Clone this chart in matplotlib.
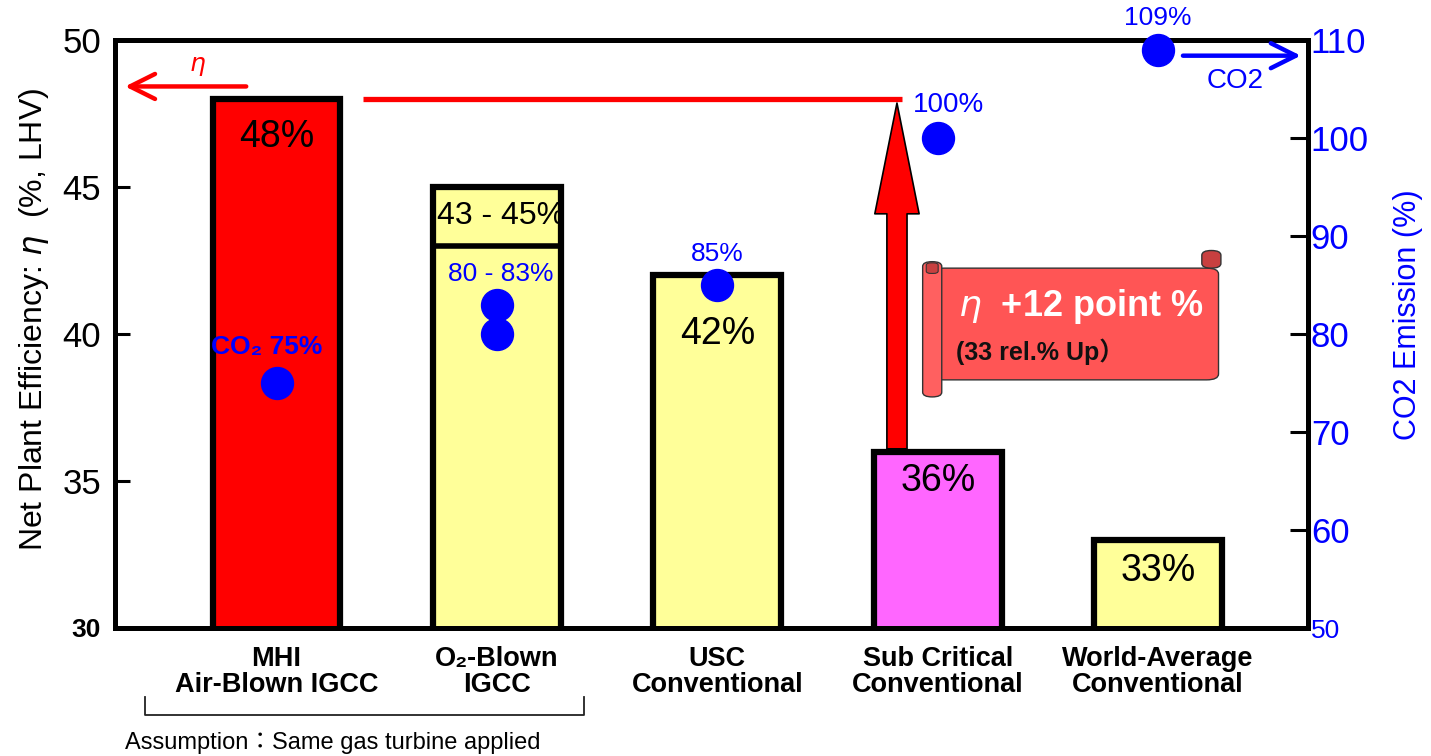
import matplotlib
matplotlib.use('Agg')
import matplotlib.pyplot as plt
import numpy as np
from matplotlib.patches import FancyBboxPatch, FancyArrowPatch

plt.rcParams['font.family'] = ['Liberation Sans', 'DejaVu Sans', 'Noto Sans CJK JP']
plt.rcParams['mathtext.fontset'] = 'dejavusans'

# ---------------- data ----------------
categories = ["MHI\nAir-Blown IGCC", "O₂-Blown\nIGCC", "USC\nConventional",
              "Sub Critical\nConventional", "World-Average\nConventional"]
efficiency = [48, 45, 42, 36, 33]
o2_low = 43
eff_labels = ["48%", "43 - 45%", "42%", "36%", "33%"]
bar_colors = ["#FF0000", "#FFFF99", "#FFFF99", "#FF66FF", "#FFFF99"]

co2_cat = [0, 1, 1, 2, 3, 4]
co2_values = [75, 83, 80, 85, 100, 109]
co2_label_cat = [0, 1, 2, 3, 4]
co2_label_vals = [75, 83, 85, 100, 109]
co2_labels = ["CO₂ 75%", "80 - 83%", "85%", "100%", "109%"]

left_ticks = [30, 35, 40, 45, 50]
right_ticks = [50, 60, 70, 80, 90, 100, 110]

# ---------------- figure ----------------
W, H = 1431, 756
fig = plt.figure(figsize=(W / 100, H / 100), dpi=100)
ax = fig.add_axes([115 / W, 1 - 628 / H, (1308 - 115) / W, (628 - 40) / H])
ax2 = ax.twinx()

x = np.arange(len(categories))
ax.set_xlim(-0.733, 4.68)
ax.set_ylim(30, 50)
ax2.set_ylim(50, 110)

ax.bar(x, efficiency, width=0.58, bottom=0, color=bar_colors,
       edgecolor='black', linewidth=4.5, zorder=2)
# O2-blown range line
ax.hlines(o2_low, x[1] - 0.29, x[1] + 0.29, color='black', linewidth=4, zorder=3)

# value labels inside bars
lab_y = [46.7, (o2_low + efficiency[1]) / 2, 40.0, 35.0, 31.95]
lab_size = [27, 23, 27, 27, 27]
for xi, yv, t, s in zip(x, lab_y, eff_labels, lab_size):
    ax.text(xi + (0.02 if xi == 1 else 0), yv, t, ha='center', va='center',
            fontsize=s, color='black', zorder=5)

# spines & ticks
for a in (ax, ax2):
    for sp in a.spines.values():
        sp.set_linewidth(3.6)
        sp.set_color('black')

ax.set_xticks(x)
ax.set_xticklabels(categories, fontsize=19.5, fontweight='bold', linespacing=1.0)
ax.tick_params(axis='x', length=0, pad=13)

ax.set_yticks(left_ticks)
ax.set_yticklabels([str(v) for v in left_ticks], fontsize=25)
ax.tick_params(axis='y', direction='in', length=11, width=2.2, pad=10)
ylabs = ax.get_yticklabels()
ylabs[0].set_fontsize(19)
ylabs[0].set_fontweight('bold')

ax2.set_yticks(right_ticks)
ax2.set_yticklabels([str(v) for v in right_ticks], fontsize=25, color='blue')
ax2.tick_params(axis='y', direction='in', length=13, width=2.2, pad=2)
r_labs = ax2.get_yticklabels()
r_labs[0].set_fontsize(19)

ax.set_ylabel("Net Plant Efficiency: $\\eta$  (%, LHV)", fontsize=23)
ax.yaxis.set_label_coords(-0.054, 0.524)
ax2.set_ylabel("CO2 Emission (%)", fontsize=22, color='blue')
ax2.yaxis.set_label_coords(1.071, 0.532)

# CO2 points
ax2.plot(co2_cat, co2_values, 'o', color='blue', markersize=23,
         linestyle='none', zorder=6, clip_on=False)

lab_off = [(-7, 26), (3, 22), (0, 22), (8, 24), (0, 23)]
lab_fs = [19, 19, 19, 20, 19]
lab_wt = ['bold', 'normal', 'normal', 'normal', 'normal']
for xi, v, t, off, fs, wt in zip(co2_label_cat, co2_label_vals, co2_labels, lab_off, lab_fs, lab_wt):
    ax2.annotate(t, (xi, v), xytext=off, textcoords='offset points',
                 ha='center', va='center', fontsize=fs, color='blue',
                 fontweight=wt, zorder=7, annotation_clip=False)

# red horizontal line at 48% level
ax.hlines(efficiency[0], 0.39, 2.84, color='red', linewidth=3.8, zorder=4)

# big red arrow from sub critical to MHI level
arr = FancyArrowPatch((2.815, efficiency[3]), (2.815, efficiency[0] - 0.05),
                      arrowstyle='simple,head_width=2.2,head_length=5.5,tail_width=1.0',
                      mutation_scale=14.5, facecolor='red', edgecolor='black',
                      linewidth=1.2, zorder=4)
ax.add_patch(arr)

# eta arrow (left)
ax.annotate("", xy=(-0.70, 48.42), xytext=(-0.125, 48.42),
            arrowprops=dict(arrowstyle='->,head_length=0.9,head_width=0.45',
                            color='red', lw=3.2, mutation_scale=20),
            zorder=6, annotation_clip=False)
ax.text(-0.36, 49.1, "$\\eta$", color='red', fontsize=18, ha='center', va='center')

# CO2 arrow (right)
ax2.annotate("", xy=(4.66, 108.4), xytext=(4.1, 108.4),
             arrowprops=dict(arrowstyle='->,head_length=0.9,head_width=0.45',
                             color='blue', lw=3.2, mutation_scale=20),
             zorder=6, annotation_clip=False)
ax2.text(4.35, 105.8, "CO2", color='blue', fontsize=20, ha='center', va='center')

# scroll banner
tr = ax.transAxes
body = FancyBboxPatch((0.685, 0.422), 0.24, 0.19,
                      boxstyle='round,pad=0,rounding_size=0.01',
                      transform=tr, facecolor='#FF5555', edgecolor='#333333',
                      linewidth=1.0, zorder=7, clip_on=False)
ax.add_patch(body)
roll = FancyBboxPatch((0.677, 0.393), 0.016, 0.23,
                      boxstyle='round,pad=0,rounding_size=0.008',
                      transform=tr, facecolor='#FF6060', edgecolor='#333333',
                      linewidth=1.0, zorder=8, clip_on=False)
ax.add_patch(roll)
ax.add_patch(FancyBboxPatch((0.68, 0.603), 0.01, 0.018,
                            boxstyle='round,pad=0,rounding_size=0.004',
                            transform=tr, facecolor='#C84040', edgecolor='#333333',
                            linewidth=0.8, zorder=9, clip_on=False))
ax.add_patch(FancyBboxPatch((0.911, 0.612), 0.016, 0.03,
                            boxstyle='round,pad=0,rounding_size=0.008',
                            transform=tr, facecolor='#C84040', edgecolor='#333333',
                            linewidth=1.0, zorder=8, clip_on=False))
ax.text(0.707, 0.546, "$\\eta$  +12 point %", transform=tr, color='white',
        fontsize=26, fontweight='bold', ha='left', va='center', zorder=10)
ax.text(0.705, 0.469, "(33 rel.% Up）", transform=tr, color='#111111',
        fontsize=18, fontweight='bold', ha='left', va='center', zorder=10)

# bracket + assumption note
fig.add_artist(plt.Line2D([145 / W, 145 / W, 584 / W, 584 / W],
                          [1 - 697 / H, 1 - 715 / H, 1 - 715 / H, 1 - 697 / H],
                          color='#222222', linewidth=1.3))
fig.text(125 / W, 1 - 743 / H, "Assumption：Same gas turbine applied",
         fontsize=17, ha='left', va='center', color='black')

fig.savefig('out.png', dpi=100)
